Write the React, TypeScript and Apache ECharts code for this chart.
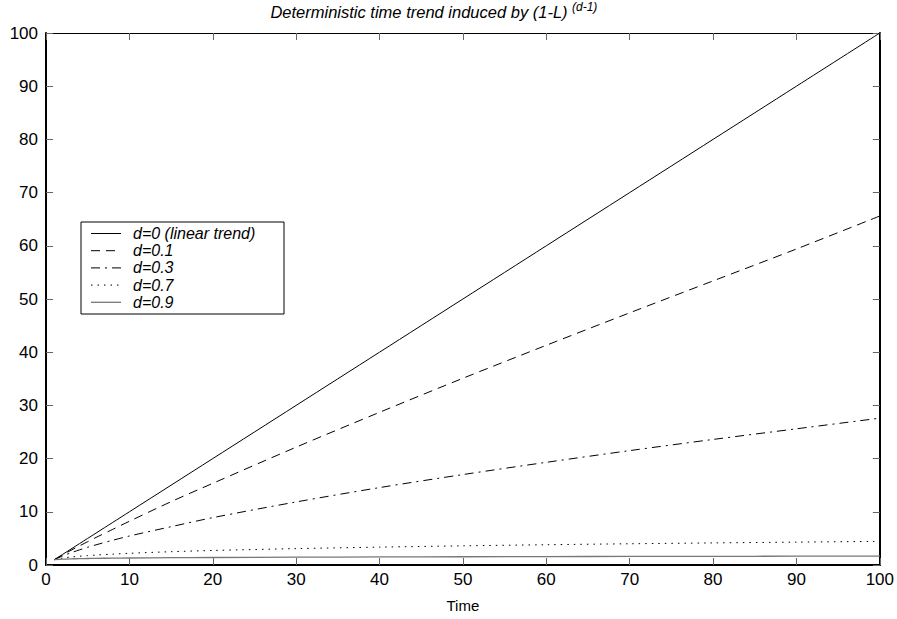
import React, { useEffect, useRef } from "react";
import * as echarts from "echarts";

const timePoints = [1, 2, 3, 4, 5, 6, 8, 10, 15, 20, 30, 40, 50, 60, 70, 80, 90, 100];
const seriesD0 = [1, 2, 3, 4, 5, 6, 8, 10, 15, 20, 30, 40, 50, 60, 70, 80, 90, 100];
const seriesD01 = [1, 1.9, 2.76, 3.58, 4.39, 5.18, 6.7, 8.22, 11.9, 15.35, 22.15, 28.7, 35.1, 41.3, 47.4, 53.4, 59.4, 65.6];
const seriesD03 = [1, 1.7, 2.3, 2.83, 3.33, 3.79, 4.65, 5.45, 7.2, 8.9, 11.85, 14.55, 17.0, 19.3, 21.5, 23.6, 25.6, 27.6];
const seriesD07 = [1, 1.3, 1.5, 1.64, 1.77, 1.87, 2.04, 2.2, 2.5, 2.73, 3.08, 3.36, 3.6, 3.81, 3.99, 4.15, 4.3, 4.44];
const seriesD09 = [1, 1.1, 1.16, 1.19, 1.22, 1.25, 1.29, 1.32, 1.37, 1.41, 1.47, 1.52, 1.55, 1.58, 1.61, 1.63, 1.65, 1.67];
const legendLabels = ["d=0 (linear trend)", "d=0.1", "d=0.3", "d=0.7", "d=0.9"];

const FONT = "Liberation Sans, Arial, sans-serif";

const lineStyles: any[] = [
  { color: "#000", width: 1, type: "solid" },
  { color: "#000", width: 1, type: [9, 6] },
  { color: "#000", width: 1, type: [9, 5, 2, 5] },
  { color: "#000", width: 1, type: [1.5, 5] },
  { color: "#777", width: 1.3, type: "solid" },
];

const tickStyle = { show: true, inside: true, length: 7, lineStyle: { color: "#666", width: 1 } };

export default function App() {
  const ref = useRef<HTMLDivElement>(null);
  useEffect(() => {
    if (!ref.current) return;
    const chart = echarts.init(ref.current, undefined, { renderer: "svg" });
    const all = [seriesD0, seriesD01, seriesD03, seriesD07, seriesD09];
    const series = all.map((vals, i) => ({
      name: legendLabels[i],
      type: "line",
      data: timePoints.map((t, j) => [t, vals[j]]),
      showSymbol: false,
      symbol: "none",
      smooth: 0.3,
      lineStyle: lineStyles[i],
      xAxisIndex: 0,
      yAxisIndex: 0,
      z: 3,
    }));

    const legendX = 81;
    const legendY = 222;
    const rowH = 17.2;
    const legendChildren: any[] = [
      {
        type: "rect",
        shape: { x: legendX, y: legendY, width: 203, height: 92 },
        style: { fill: "#fff", stroke: "#000", lineWidth: 1 },
      },
    ];
    legendLabels.forEach((lab, i) => {
      const cy = legendY + 11.5 + i * rowH;
      const ls = lineStyles[i];
      legendChildren.push({
        type: "line",
        shape: { x1: 91, y1: cy, x2: 121, y2: cy },
        style: {
          stroke: ls.color,
          lineWidth: ls.width,
          lineDash: Array.isArray(ls.type) ? ls.type : null,
        },
      });
      legendChildren.push({
        type: "text",
        x: 133,
        y: cy,
        style: {
          text: lab,
          fill: "#000",
          font: `italic 16px ${FONT}`,
          lineHeight: 16,
          textVerticalAlign: "middle",
          verticalAlign: "middle",
        },
      });
    });

    const option: any = {
      animation: false,
      backgroundColor: "#fff",
      grid: { left: 46, right: 17, top: 33, bottom: 54, show: false },
      xAxis: [
        {
          type: "value",
          position: "bottom",
          min: 0,
          max: 100,
          interval: 10,
          name: "Time",
          nameLocation: "middle",
          nameGap: 33,
          nameTextStyle: { fontFamily: FONT, fontSize: 15, color: "#000" },
          axisLine: { show: true, onZero: false, lineStyle: { color: "#000", width: 2 } },
          axisTick: tickStyle,
          axisLabel: { fontFamily: FONT, fontSize: 17, color: "#000", margin: 6 },
          splitLine: { show: false },
        },
        {
          type: "value",
          position: "top",
          min: 0,
          max: 100,
          interval: 10,
          axisLine: { show: true, onZero: false, lineStyle: { color: "#000", width: 1 } },
          axisTick: tickStyle,
          axisLabel: { show: false },
          splitLine: { show: false },
        },
      ],
      yAxis: [
        {
          type: "value",
          position: "left",
          min: 0,
          max: 100,
          interval: 10,
          axisLine: { show: true, onZero: false, lineStyle: { color: "#000", width: 2 } },
          axisTick: tickStyle,
          axisLabel: { fontFamily: FONT, fontSize: 17, color: "#000", margin: 8 },
          splitLine: { show: false },
        },
        {
          type: "value",
          position: "right",
          min: 0,
          max: 100,
          interval: 10,
          axisLine: { show: true, onZero: false, lineStyle: { color: "#000", width: 2 } },
          axisTick: tickStyle,
          axisLabel: { show: false },
          splitLine: { show: false },
        },
      ],
      series,
      graphic: [
        {
          type: "text",
          x: 419,
          y: 12,
          style: {
            text: "Deterministic time trend induced by (1-L)",
            fill: "#000",
            font: `italic 16.5px ${FONT}`,
            textAlign: "center",
            textVerticalAlign: "middle",
            align: "center",
            verticalAlign: "middle",
          },
        },
        {
          type: "text",
          x: 572,
          y: 7,
          style: {
            text: "(d-1)",
            fill: "#000",
            font: `italic 12px ${FONT}`,
            textVerticalAlign: "middle",
            verticalAlign: "middle",
          },
        },
        { type: "group", children: legendChildren, z: 10 },
      ],
    };
    chart.setOption(option);
    return () => chart.dispose();
  }, []);
  return (
    <div
      ref={ref}
      style={{ position: "fixed", left: 0, top: 0, width: 897, height: 619, background: "#fff" }}
    />
  );
}
